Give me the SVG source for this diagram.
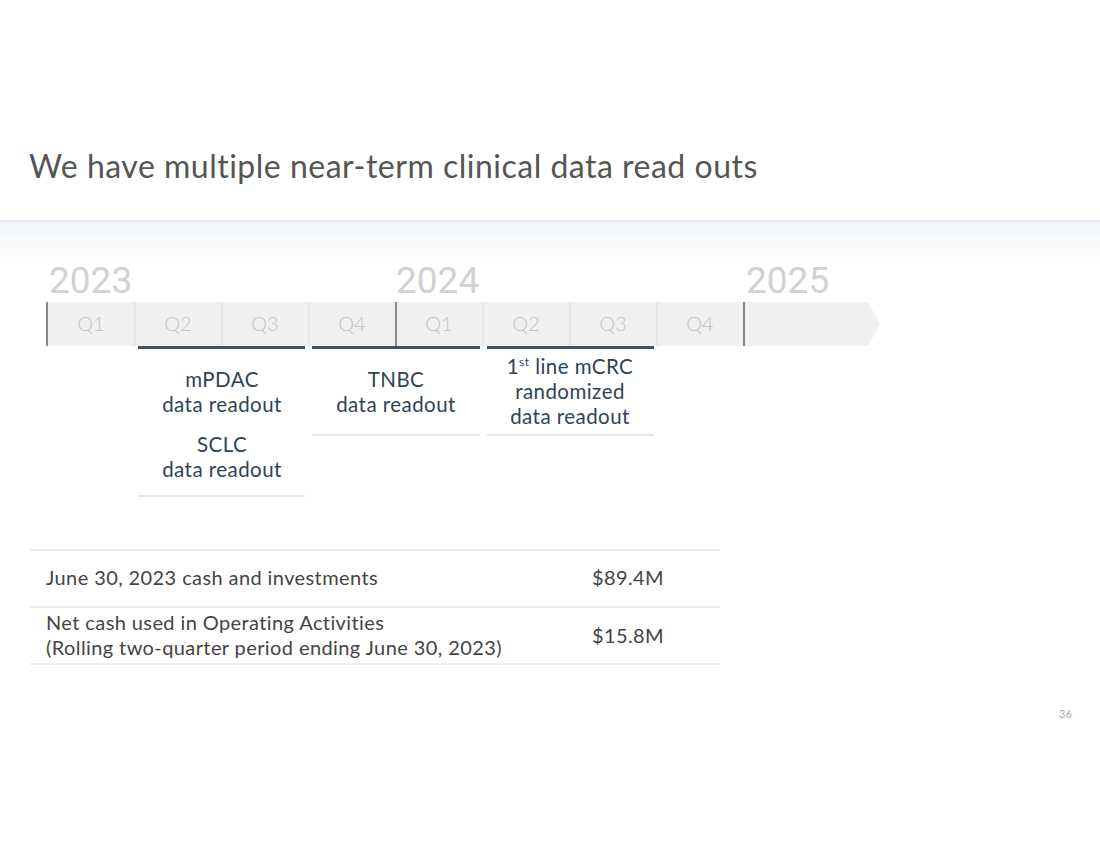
<svg xmlns="http://www.w3.org/2000/svg" width="1100" height="849" viewBox="0 0 1100 849">
<defs>
<linearGradient id="fade" x1="0" y1="0" x2="0" y2="1">
<stop offset="0" stop-color="#f0f4f8"/>
<stop offset="1" stop-color="#ffffff"/>
</linearGradient>
<style>
.title{font-family:Lato,"Noto Sans",sans-serif;font-size:32px;letter-spacing:0.5px;fill:#555555}
.year{font-family:Roboto,"Liberation Sans",sans-serif;font-size:37px;fill:#d2d2d2}
.q{font-family:Lato,"Noto Sans",sans-serif;font-size:20px;fill:#c2c2c2;text-anchor:middle;font-weight:300}
.ev{font-family:Lato,"Noto Sans",sans-serif;font-size:20.5px;letter-spacing:0.45px;fill:#2e4454;text-anchor:middle}
.tb{font-family:Lato,"Noto Sans",sans-serif;font-size:20px;letter-spacing:0.4px;fill:#444444}
.div{stroke:#dddddd;stroke-width:1}
.edge{stroke:#888888;stroke-width:2}
.top{stroke:#3d5466;stroke-width:3}
.bot{stroke:#c9d3db;stroke-width:1.2}
.rule{stroke:#dddddd;stroke-width:1.2}
</style>
</defs>
<rect width="1100" height="849" fill="#ffffff"/>
<text class="title" x="29" y="178">We have multiple near-term clinical data read outs</text>
<rect x="0" y="221" width="1100" height="40" fill="url(#fade)"/>
<line x1="0" y1="221" x2="1100" y2="221" stroke="#dbe5ee" stroke-width="1.5"/>

<g id="timeline">
<polygon points="47,302 868,302 880,324 868,346 47,346" fill="#f0f0f0"/>
<line class="div" x1="135" y1="302" x2="135" y2="346"/>
<line class="div" x1="222" y1="302" x2="222" y2="346"/>
<line class="div" x1="309" y1="302" x2="309" y2="346"/>
<line class="div" x1="483" y1="302" x2="483" y2="346"/>
<line class="div" x1="570" y1="302" x2="570" y2="346"/>
<line class="div" x1="657" y1="302" x2="657" y2="346"/>
<line class="edge" x1="47" y1="302" x2="47" y2="346" stroke-width="1.5" stroke="#999999"/>
<line class="edge" x1="396" y1="302" x2="396" y2="346" stroke-width="1.5" stroke="#aaaaaa"/>
<line class="edge" x1="744" y1="302" x2="744" y2="346"/>
<text class="year" x="49" y="293">2023</text>
<text class="year" x="396" y="293">2024</text>
<text class="year" x="746" y="293">2025</text>
<text class="q" x="91" y="331">Q1</text>
<text class="q" x="178" y="331">Q2</text>
<text class="q" x="265" y="331">Q3</text>
<text class="q" x="352" y="331">Q4</text>
<text class="q" x="439" y="331">Q1</text>
<text class="q" x="526" y="331">Q2</text>
<text class="q" x="613" y="331">Q3</text>
<text class="q" x="700" y="331">Q4</text>
</g>

<g id="ev-mpdac">
<line class="top" x1="138" y1="347.5" x2="305" y2="347.5"/>
<text class="ev" x="222" y="387">mPDAC</text>
<text class="ev" x="222" y="412">data readout</text>
<text class="ev" x="222" y="452">SCLC</text>
<text class="ev" x="222" y="477">data readout</text>
<line class="bot" x1="138" y1="496" x2="305" y2="496"/>
</g>

<g id="ev-tnbc">
<line class="top" x1="312" y1="347.5" x2="480" y2="347.5"/>
<text class="ev" x="396" y="387">TNBC</text>
<text class="ev" x="396" y="412">data readout</text>
<line class="bot" x1="312" y1="435" x2="480" y2="435"/>
</g>

<g id="ev-mcrc">
<line class="top" x1="487" y1="347.5" x2="654" y2="347.5"/>
<text class="ev" x="570" y="374">1<tspan font-size="12" dy="-8">st</tspan><tspan dy="8"> line mCRC</tspan></text>
<text class="ev" x="570" y="399">randomized</text>
<text class="ev" x="570" y="424">data readout</text>
<line class="bot" x1="487" y1="435" x2="654" y2="435"/>
</g>

<g id="table">
<line class="rule" x1="30" y1="550" x2="720" y2="550"/>
<line class="rule" x1="30" y1="607" x2="720" y2="607"/>
<line class="rule" x1="30" y1="664" x2="720" y2="664"/>
<text class="tb" x="46" y="585">June 30, 2023 cash and investments</text>
<text class="tb" x="592" y="585">$89.4M</text>
<text class="tb" x="46" y="630">Net cash used in Operating Activities</text>
<text class="tb" x="46" y="655">(Rolling two-quarter period ending June 30, 2023)</text>
<text class="tb" x="592" y="643">$15.8M</text>
</g>

<text x="1059" y="718" font-family="Lato,'Noto Sans',sans-serif" font-size="11" fill="#aaaaaa">36</text>
</svg>
